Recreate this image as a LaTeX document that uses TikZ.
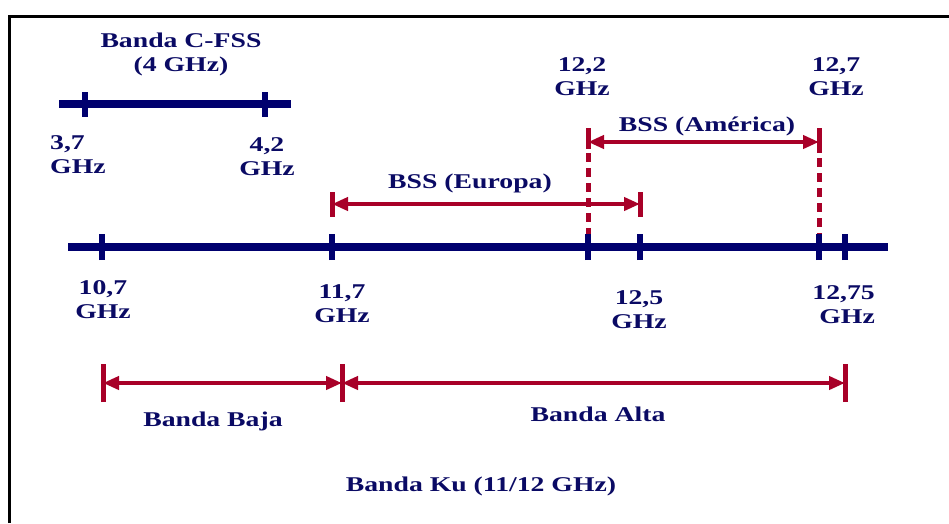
\documentclass[tikz,border=0pt]{standalone}
\usepackage{fontspec}
\newfontfamily\labfont{Liberation Serif}[FakeStretch=1.32]
\usetikzlibrary{arrows.meta}
\definecolor{bandblue}{RGB}{0,0,110}
\definecolor{labblue}{RGB}{10,10,100}
\definecolor{bandred}{RGB}{168,0,40}
\begin{document}
\begin{tikzpicture}[x=1pt,y=-1pt,
  lab/.style={font={\labfont\bfseries\fontsize{21}{24}\selectfont}, text=labblue, inner sep=0pt, anchor=base, align=center},
  axisline/.style={draw=bandblue, line width=8pt},
  tickmark/.style={draw=bandblue, line width=6pt},
  rbar/.style={draw=bandred, line width=5pt},
  rarrow/.style={draw=bandred, line width=4pt, {Triangle[length=16pt,width=13pt]}-{Triangle[length=16pt,width=13pt]}},
  rdash/.style={draw=bandred, line width=5pt, dash pattern=on 9pt off 6pt}]
\useasboundingbox (0,0) rectangle (949,523);
% frame
\draw[black, line width=3pt] (9.5,523) -- (9.5,16.5) -- (949,16.5);

% C band
\coordinate (cL) at (59,104);
\coordinate (cR) at (291,104);
\coordinate (c37) at (85,104);
\coordinate (c42) at (265,104);
\draw[axisline] (cL) -- (cR);
\foreach \c in {c37,c42} \draw[tickmark] ([yshift=-12.5pt]\c) -- ([yshift=12.5pt]\c);

% main axis coordinates
\coordinate (mL) at (68,247);
\coordinate (mR) at (888,247);
\coordinate (k107) at (102,247);
\coordinate (k117) at (332,247);
\coordinate (k122) at (588,247);
\coordinate (k125) at (640,247);
\coordinate (k127) at (819,247);
\coordinate (k1275) at (845,247);

% America
\coordinate (aL) at (588,142);
\coordinate (aR) at (819,142);
\coordinate (aLt) at (588,128);
\coordinate (aLb) at (588,149);
\coordinate (aLd) at (588,153);
\coordinate (aRt) at (819,128);
\coordinate (aRb) at (819,153);
\coordinate (aRd) at (819,158);
\draw[rdash] (aLd) -- (k122);
\draw[rdash] (aRd) -- (k127);
\draw[rbar] (aLt) -- (aLb);
\draw[rbar] (aRt) -- (aRb);
\draw[rarrow] (aL) -- (aR);

% Europa
\coordinate (eL) at (332,204);
\coordinate (eR) at (640,204);
\foreach \c in {eL,eR} \draw[rbar] ([yshift=-12.5pt]\c) -- ([yshift=12.5pt]\c);
\draw[rarrow] (eL) -- (eR);

% main axis
\draw[axisline] (mL) -- (mR);
\foreach \c in {k107,k117,k122,k125,k127,k1275} \draw[tickmark] ([yshift=-13pt]\c) -- ([yshift=13pt]\c);

% lower bands
\coordinate (bL) at (103,383);
\coordinate (bM) at (342,383);
\coordinate (bR) at (845,383);
\foreach \c in {bL,bM,bR} \draw[rbar] ([yshift=-19pt]\c) -- ([yshift=19pt]\c);
\draw[rarrow] (bL) -- (bM);
\draw[rarrow] (bM) -- (bR);

% labels (two-line nodes are anchored at the baseline of their last line)
\node[lab] (tC) at (181,71) {Banda C-FSS\\(4 GHz)};
\node[lab, align=left, anchor=base west] (t37) at (50,173) {3,7\\GHz};
\node[lab] (t42) at (267,175) {4,2\\GHz};
\node[lab] (t122) at (582,95) {12,2\\GHz};
\node[lab] (t127) at (836,95) {12,7\\GHz};
\node[lab] (tAm) at (707,131) {BSS (América)};
\node[lab] (tEu) at (470,188) {BSS (Europa)};
\node[lab] (t107) at (103,318) {10,7\\GHz};
\node[lab] (t117) at (342,322) {11,7\\GHz};
\node[lab] (t125) at (639,328) {12,5\\GHz};
\node[lab, align=right, anchor=base east] (t1275) at (875,323) {12,75\\GHz};
\node[lab] (tBaja) at (213,426) {Banda Baja};
\node[lab] (tAlta) at (598,421) {Banda Alta};
\node[lab] (tKu) at (481,491) {Banda Ku (11/12 GHz)};
\end{tikzpicture}
\end{document}
